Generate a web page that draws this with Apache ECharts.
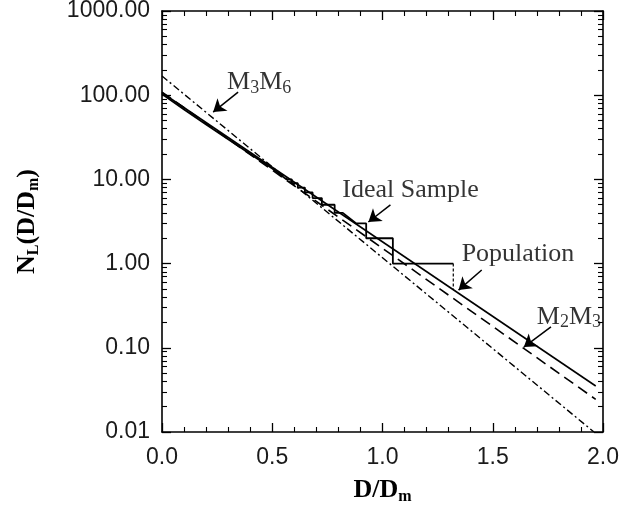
<!DOCTYPE html>
<html><head><meta charset="utf-8">
<script src="https://cdn.jsdelivr.net/npm/echarts@6/dist/echarts.min.js"></script>
<style>html,body{margin:0;padding:0;background:#fff}#c{width:627px;height:506px}</style>
</head><body><div id="c"></div>
<script>
// ---- data ----
const populationX = [0, 1.967];
const populationY = [107, 0.0352];
const m2m3X = [0, 1.967];
const m2m3Y = [109, 0.0244];
const m3m6X = [0, 1.959];
const m3m6Y = [169, 0.01];
const sampleX = [0, 0.1, 0.2, 0.3, 0.4, 0.5, 0.564, 0.589, 0.589, 0.616, 0.616, 0.648, 0.648, 0.683, 0.683, 0.725, 0.725, 0.783, 0.783, 0.82, 0.881, 0.926, 0.926, 1.047, 1.047, 1.321];
const sampleY = [103, 67.5, 45, 30, 20, 13.5, 10, 10, 9, 9, 8, 8, 7, 7, 6, 6, 5, 5, 4, 4, 3, 3, 2, 2, 1, 1];
const sampleTailX = [1.321, 1.321];
const sampleTailY = [1, 0.49];

const xTickValues = [0, 0.5, 1.0, 1.5, 2.0];
const xTickLabels = ['0.0', '0.5', '1.0', '1.5', '2.0'];
const yTickValues = [0.01, 0.1, 1, 10, 100, 1000];
const yTickLabels = ['0.01', '0.10', '1.00', '10.00', '100.00', '1000.00'];
const yMinorMultipliers = [2, 3, 4, 5, 6, 7, 8, 9];

const annoText = ['M{s|3}M{s|6}', 'Ideal Sample', 'Population', 'M{s|2}M{s|3}'];
const annoX = [0.295, 0.818, 1.359, 1.70];
const annoY = [143, 7.5, 1.3, 0.234];
const arrowFromX = [0.345, 1.036, 1.45, 1.764];
const arrowFromY = [109, 4.97, 0.84, 0.177];
const arrowToX = [0.232, 0.936, 1.345, 1.641];
const arrowToY = [63, 3.12, 0.485, 0.102];

// ---- build ----
const yMinorValues = [];
for (let i = 0; i < yTickValues.length - 1; i++) {
  yMinorMultipliers.forEach(m => yMinorValues.push(+(yTickValues[i] * m).toPrecision(6)));
}
const zip = (xs, ys) => xs.map((x, i) => [x, ys[i]]);

const lineCol = '#000';
const tickFont = { fontSize: 23, color: '#1a1a1a', fontFamily: 'Liberation Sans' };
const serif = 'Liberation Serif';
const subRich = { s: { fontSize: 16, lineHeight: 12, verticalAlign: 'bottom', fontFamily: serif, fontWeight: 'bold', color: '#000' } };

function xAxisDef(pos, labels) {
  return {
    type: 'value', min: 0, max: 2, interval: 0.5, position: pos,
    axisLine: { show: true, onZero: false, lineStyle: { color: lineCol, width: 1.6 } },
    axisTick: { show: true, inside: true, length: 9, lineStyle: { color: lineCol, width: 1.3 } },
    minorTick: { show: true, splitNumber: 5, length: 5, lineStyle: { color: lineCol, width: 1.1 } },
    splitLine: { show: false },
    axisLabel: labels ? Object.assign({ margin: 14, formatter: v => { const i = xTickValues.findIndex(t => Math.abs(t - v) < 1e-9); return i >= 0 ? xTickLabels[i] : ''; } }, tickFont) : { show: false },
    name: labels ? 'D/D{s|m}' : '', nameLocation: 'middle', nameGap: 43,
    nameTextStyle: { fontFamily: serif, fontWeight: 'bold', fontSize: 26, lineHeight: 30, color: '#000', rich: subRich }
  };
}
function yAxisDef(pos, values, len, labels, line) {
  return {
    type: 'log', logBase: 10, min: 0.01, max: 1000, position: pos,
    axisLine: { show: line, onZero: false, lineStyle: { color: lineCol, width: 1.6 } },
    axisTick: { show: true, inside: true, length: len, customValues: values, lineStyle: { color: lineCol, width: len > 6 ? 1.3 : 1.1 } },
    minorTick: { show: false },
    splitLine: { show: false },
    axisLabel: labels ? Object.assign({ margin: 12, customValues: values, formatter: v => { const i = yTickValues.findIndex(t => Math.abs(Math.log10(t) - Math.log10(v)) < 1e-6); return i >= 0 ? yTickLabels[i] : ''; } }, tickFont) : { show: false },
    name: labels ? 'N{s|L}(D/D{s|m})' : '', nameLocation: 'middle', nameGap: 120,
    nameTextStyle: { fontFamily: serif, fontWeight: 'bold', fontSize: 26, lineHeight: 30, color: '#000', rich: subRich }
  };
}

const annoRich = { s: { fontSize: 18, lineHeight: 14, verticalAlign: 'bottom', fontFamily: serif, color: '#000' } };

const option = {
  animation: false,
  backgroundColor: '#fff',
  grid: { left: 162, right: 24, top: 11, bottom: 74, containLabel: false, outerBoundsMode: 'none' },
  xAxis: [xAxisDef('bottom', true), xAxisDef('top', false)],
  yAxis: [
    yAxisDef('left', yTickValues, 9, true, true),
    yAxisDef('right', yTickValues, 9, false, true),
    yAxisDef('left', yMinorValues, 5, false, false),
    yAxisDef('right', yMinorValues, 5, false, false)
  ],
  series: [
    { name: 'Population', type: 'line', data: zip(populationX, populationY), showSymbol: false, lineStyle: { color: '#000', width: 1.6, type: 'solid' }, silent: true },
    { name: 'M2M3', type: 'line', data: zip(m2m3X, m2m3Y), showSymbol: false, lineStyle: { color: '#000', width: 1.6, type: [11, 6] }, silent: true },
    { name: 'M3M6', type: 'line', data: zip(m3m6X, m3m6Y), showSymbol: false, lineStyle: { color: '#000', width: 1.4, type: [7, 3, 2, 3] }, silent: true },
    { name: 'Ideal Sample', type: 'line', data: zip(sampleX, sampleY), showSymbol: false, lineStyle: { color: '#000', width: 1.8 }, silent: true },
    { name: 'Sample tail', type: 'line', data: zip(sampleTailX, sampleTailY), showSymbol: false, lineStyle: { color: '#000', width: 1.2, type: [3, 2] }, silent: true },
    {
      name: 'annotations', type: 'scatter', symbolSize: 0, silent: true,
      data: annoX.map((x, i) => [x, annoY[i]]),
      label: {
        show: true, position: 'right', distance: 0,
        formatter: p => annoText[p.dataIndex],
        fontFamily: serif, fontSize: 26, lineHeight: 30, color: '#000', rich: annoRich
      },
      markLine: {
        silent: true, symbol: ['none', 'arrow'], symbolSize: 12,
        label: { show: false },
        lineStyle: { color: '#000', width: 1.5, type: 'solid' },
        data: arrowFromX.map((x, i) => [{ coord: [x, arrowFromY[i]] }, { coord: [arrowToX[i], arrowToY[i]] }])
      }
    }
  ]
};
const chart = echarts.init(document.getElementById('c'), null, { renderer: 'canvas' });
chart.setOption(option);
</script></body></html>
